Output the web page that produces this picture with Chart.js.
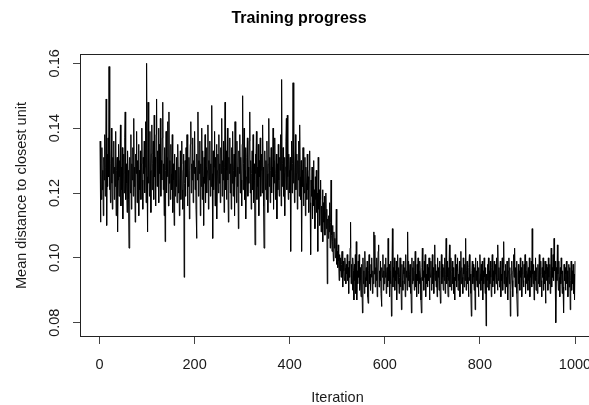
<!DOCTYPE html>
<html>
<head>
<meta charset="utf-8">
<script src="https://cdn.jsdelivr.net/npm/chart.js@4/dist/chart.umd.min.js"></script>
<style>
  html, body { margin: 0; padding: 0; background: #fff; overflow: hidden; }
  #wrap { position: absolute; left: 0; top: 0; width: 604px; height: 405px; }
</style>
</head>
<body>
<div id="wrap"><canvas id="c" width="604" height="405"></canvas></div>
<script>
// ---- data ----
const chartTitle = 'Training progress';
const xTitle = 'Iteration';
const yTitle = 'Mean distance to closest unit';
const xTicks = [0, 200, 400, 600, 800, 1000];
const xTickLabels = ['0', '200', '400', '600', '800', '1000'];
const yTicks = [0.08, 0.10, 0.12, 0.14, 0.16];
const yTickLabels = ['0.08', '0.10', '0.12', '0.14', '0.16'];

// mean distance per iteration (1..1000)
const meanDistance = [
// 1
0.136,0.111,0.129,0.118,0.134,0.121,0.127,0.113,0.131,0.124,0.138,0.119,0.128,0.149,0.110,0.132,0.122,0.137,0.125,0.159,
0.121,0.133,0.117,0.129,0.140,0.123,0.115,0.131,0.126,0.136,0.118,0.128,0.122,0.139,0.113,0.127,0.131,0.108,0.124,0.135,
0.119,0.130,0.125,0.141,0.116,0.128,0.121,0.134,0.112,0.126,0.132,0.120,0.137,0.145,0.118,0.129,0.123,0.114,0.133,0.127,
0.118,0.103,0.125,0.131,0.120,0.138,0.115,0.129,0.124,0.134,0.119,0.143,0.122,0.128,0.111,0.132,0.126,0.139,0.117,0.130,
0.123,0.135,0.113,0.127,0.121,0.133,0.118,0.129,0.140,0.124,0.115,0.131,0.126,0.136,0.120,0.128,0.142,0.117,0.160,0.125,
// 101
0.108,0.148,0.123,0.134,0.119,0.139,0.127,0.114,0.132,0.141,0.121,0.129,0.136,0.118,0.144,0.125,0.131,0.116,0.138,0.149,
0.122,0.133,0.128,0.140,0.117,0.135,0.126,0.143,0.119,0.130,0.124,0.137,0.148,0.121,0.129,0.113,0.134,0.105,0.127,0.139,
0.120,0.131,0.125,0.142,0.116,0.145,0.123,0.130,0.118,0.135,0.126,0.121,0.138,0.114,0.129,0.124,0.110,0.132,0.119,0.127,
0.122,0.131,0.117,0.126,0.135,0.120,0.128,0.113,0.124,0.133,0.118,0.129,0.136,0.121,0.115,0.127,0.132,0.094,0.123,0.130,
0.119,0.134,0.125,0.138,0.116,0.128,0.122,0.131,0.112,0.127,0.135,0.142,0.120,0.129,0.124,0.137,0.117,0.130,0.126,0.139,
// 201
0.121,0.128,0.115,0.106,0.132,0.124,0.145,0.119,0.130,0.126,0.136,0.113,0.129,0.122,0.140,0.118,0.133,0.125,0.110,0.131,
0.123,0.138,0.117,0.128,0.134,0.120,0.127,0.141,0.115,0.130,0.124,0.136,0.119,0.129,0.122,0.147,0.126,0.106,0.133,0.121,
0.128,0.139,0.116,0.131,0.125,0.135,0.112,0.127,0.132,0.120,0.138,0.123,0.129,0.117,0.134,0.126,0.143,0.119,0.130,0.124,
0.136,0.114,0.128,0.148,0.121,0.133,0.118,0.127,0.140,0.124,0.111,0.131,0.126,0.137,0.120,0.129,0.115,0.134,0.123,0.139,
0.119,0.127,0.132,0.113,0.142,0.125,0.130,0.117,0.136,0.122,0.128,0.109,0.133,0.126,0.138,0.120,0.131,0.124,0.116,0.135,
// 301
0.150,0.121,0.129,0.140,0.118,0.127,0.134,0.112,0.125,0.131,0.137,0.119,0.128,0.123,0.136,0.145,0.120,0.130,0.115,0.126,
0.133,0.121,0.138,0.117,0.129,0.124,0.104,0.132,0.126,0.139,0.118,0.128,0.122,0.135,0.113,0.130,0.125,0.137,0.119,0.127,
0.132,0.120,0.141,0.128,0.116,0.103,0.124,0.133,0.121,0.130,0.118,0.136,0.126,0.114,0.129,0.143,0.122,0.131,0.117,0.127,
0.134,0.120,0.128,0.125,0.140,0.115,0.130,0.123,0.137,0.118,0.126,0.132,0.112,0.129,0.121,0.135,0.124,0.119,0.131,0.127,
0.138,0.116,0.155,0.122,0.129,0.134,0.119,0.126,0.131,0.113,0.128,0.136,0.143,0.121,0.144,0.125,0.118,0.132,0.127,0.120,
// 401
0.131,0.102,0.127,0.136,0.120,0.129,0.154,0.123,0.133,0.117,0.128,0.138,0.121,0.126,0.132,0.115,0.130,0.124,0.136,0.119,
0.141,0.125,0.118,0.130,0.102,0.127,0.122,0.134,0.116,0.126,0.120,0.131,0.113,0.128,0.123,0.118,0.132,0.121,0.125,0.114,
0.127,0.133,0.117,0.101,0.124,0.119,0.128,0.112,0.122,0.130,0.116,0.121,0.109,0.125,0.118,0.127,0.114,0.120,0.102,0.131,
0.115,0.121,0.110,0.118,0.124,0.108,0.116,0.112,0.121,0.105,0.117,0.111,0.119,0.107,0.114,0.120,0.109,0.115,0.092,0.112,
0.106,0.113,0.108,0.117,0.103,0.111,0.124,0.107,0.102,0.110,0.105,0.099,0.108,0.103,0.106,0.100,0.104,0.115,0.098,0.102,
// 501
0.097,0.104,0.099,0.093,0.101,0.096,0.100,0.094,0.098,0.102,0.095,0.091,0.099,0.096,0.093,0.100,0.097,0.092,0.098,0.095,
0.101,0.093,0.097,0.089,0.099,0.094,0.103,0.111,0.092,0.098,0.095,0.090,0.100,0.096,0.087,0.098,0.093,0.101,0.089,0.105,
0.087,0.096,0.092,0.099,0.094,0.101,0.090,0.097,0.093,0.088,0.098,0.095,0.083,0.100,0.092,0.096,0.089,0.102,0.094,0.091,
0.097,0.093,0.099,0.088,0.086,0.096,0.101,0.092,0.095,0.090,0.098,0.094,0.100,0.089,0.096,0.092,0.108,0.095,0.107,0.091,
0.097,0.093,0.100,0.088,0.095,0.102,0.104,0.091,0.096,0.093,0.099,0.089,0.085,0.097,0.094,0.101,0.090,0.096,0.092,0.098,
// 601
0.094,0.100,0.089,0.095,0.097,0.091,0.106,0.093,0.098,0.088,0.096,0.092,0.099,0.082,0.095,0.109,0.091,0.097,0.094,0.100,
0.090,0.096,0.093,0.099,0.087,0.095,0.101,0.092,0.097,0.089,0.094,0.100,0.091,0.096,0.084,0.098,0.093,0.090,0.099,0.095,
0.092,0.097,0.088,0.101,0.094,0.096,0.090,0.108,0.093,0.099,0.091,0.095,0.098,0.089,0.094,0.083,0.100,0.092,0.097,0.093,
0.099,0.090,0.096,0.102,0.091,0.095,0.088,0.098,0.093,0.100,0.089,0.096,0.092,0.099,0.094,0.087,0.083,0.097,0.103,0.093,
0.096,0.090,0.099,0.094,0.101,0.088,0.095,0.092,0.098,0.091,0.097,0.093,0.100,0.087,0.096,0.094,0.099,0.090,0.095,0.101,
// 701
0.092,0.097,0.089,0.095,0.104,0.093,0.098,0.091,0.096,0.088,0.100,0.094,0.097,0.090,0.099,0.093,0.086,0.096,0.101,0.092,
0.098,0.094,0.090,0.097,0.093,0.100,0.089,0.095,0.106,0.092,0.099,0.094,0.088,0.097,0.093,0.104,0.091,0.096,0.100,0.090,
0.095,0.099,0.092,0.097,0.089,0.094,0.087,0.101,0.093,0.098,0.091,0.096,0.100,0.090,0.095,0.093,0.099,0.088,0.096,0.102,
0.092,0.097,0.094,0.089,0.100,0.095,0.091,0.098,0.093,0.106,0.090,0.096,0.099,0.092,0.094,0.088,0.097,0.101,0.093,0.095,
0.089,0.082,0.096,0.099,0.092,0.098,0.094,0.090,0.097,0.084,0.100,0.093,0.096,0.091,0.099,0.094,0.088,0.097,0.092,0.101,
// 801
0.095,0.090,0.098,0.093,0.099,0.087,0.096,0.092,0.100,0.094,0.089,0.097,0.079,0.095,0.091,0.098,0.093,0.100,0.090,0.096,
0.092,0.099,0.094,0.088,0.097,0.101,0.091,0.096,0.093,0.099,0.089,0.095,0.098,0.092,0.100,0.094,0.090,0.104,0.093,0.097,
0.091,0.096,0.099,0.088,0.095,0.093,0.100,0.090,0.097,0.105,0.092,0.096,0.089,0.098,0.094,0.091,0.099,0.093,0.087,0.096,
0.100,0.092,0.097,0.082,0.090,0.095,0.099,0.093,0.088,0.096,0.101,0.094,0.103,0.091,0.097,0.093,0.099,0.089,0.082,0.095,
0.098,0.092,0.096,0.090,0.100,0.094,0.097,0.088,0.095,0.099,0.093,0.091,0.098,0.094,0.101,0.089,0.096,0.092,0.099,0.095,
// 901
0.090,0.097,0.093,0.100,0.088,0.096,0.094,0.099,0.091,0.109,0.095,0.092,0.098,0.087,0.096,0.093,0.100,0.090,0.097,0.094,
0.089,0.098,0.092,0.096,0.101,0.091,0.095,0.099,0.093,0.088,0.097,0.094,0.100,0.090,0.096,0.092,0.099,0.086,0.095,0.098,
0.093,0.097,0.090,0.100,0.094,0.092,0.098,0.089,0.096,0.103,0.091,0.097,0.094,0.101,0.093,0.106,0.096,0.099,0.092,0.080,
0.097,0.093,0.104,0.095,0.090,0.099,0.094,0.088,0.097,0.092,0.100,0.095,0.089,0.096,0.091,0.083,0.098,0.093,0.097,0.090,
0.095,0.099,0.092,0.096,0.088,0.094,0.098,0.091,0.097,0.084,0.093,0.099,0.090,0.096,0.092,0.098,0.089,0.095,0.087,0.099
];
// iteration number of each value (its position in the run)
const iterations = meanDistance.map((_, i) => i + 1);

// ---- chart ----
const FONT = "'Liberation Sans', Arial, Helvetica, sans-serif";
const TEXT = '#1a1a1a';

const boxPlugin = {
  id: 'box',
  afterDatasetsDraw(chart) {
    const { ctx, chartArea: a } = chart;
    ctx.save();
    ctx.strokeStyle = '#222';
    ctx.lineWidth = 1;
    ctx.strokeRect(a.left - 0.5, a.top - 0.5, a.right - a.left + 1, a.bottom - a.top + 1);
    ctx.restore();
  }
};

new Chart(document.getElementById('c'), {
  type: 'line',
  data: {
    datasets: [{
      data: meanDistance.map((v, i) => ({ x: iterations[i], y: v })),
      borderColor: '#000',
      borderWidth: 1,
      pointRadius: 0,
      tension: 0,
      fill: false
    }]
  },
  options: {
    responsive: false,
    animation: false,
    events: [],
    parsing: false,
    normalized: true,
    layout: { padding: { left: 4, right: 10, top: 0, bottom: 0 } },
    plugins: {
      legend: { display: false },
      tooltip: { enabled: false },
      title: {
        display: true,
        text: chartTitle,
        color: '#000',
        font: { family: FONT, size: 16, weight: 'bold' },
        padding: { top: 9, bottom: 26.8 }
      }
    },
    scales: {
      x: {
        type: 'linear',
        min: -38.96,
        max: 1039.96,
        afterBuildTicks: (s) => { s.ticks = xTicks.map(v => ({ value: v })); },
        afterFit: (s) => { s.height = 69; s.paddingLeft = 0; s.paddingRight = 0; },
        grid: { drawOnChartArea: false, drawTicks: true, tickLength: 8, color: '#444', lineWidth: 1 },
        border: { display: false },
        ticks: {
          autoSkip: false,
          maxRotation: 0,
          minRotation: 0,
          padding: 12,
          color: TEXT,
          font: { family: FONT, size: 14.5 },
          callback: (v, i) => xTickLabels[i]
        },
        title: {
          display: true,
          text: xTitle,
          color: TEXT,
          font: { family: FONT, size: 14.5, lineHeight: 1 },
          padding: { top: 0, bottom: 0 }
        }
      },
      y: {
        type: 'linear',
        min: 0.0759,
        max: 0.16256,
        afterBuildTicks: (s) => { s.ticks = yTicks.map(v => ({ value: v })); },
        afterFit: (s) => { s.width = 77; s.paddingTop = 0; s.paddingBottom = 0; },
        grid: { drawOnChartArea: false, drawTicks: true, tickLength: 8, color: '#444', lineWidth: 1 },
        border: { display: false },
        ticks: {
          autoSkip: false,
          minRotation: 90,
          maxRotation: 90,
          crossAlign: 'center',
          padding: 4,
          color: TEXT,
          font: { family: FONT, size: 14.5 },
          callback: (v, i) => yTickLabels[i]
        },
        title: {
          display: true,
          text: yTitle,
          color: TEXT,
          font: { family: FONT, size: 14.5 },
          padding: { top: 9, bottom: 0 }
        }
      }
    }
  },
  plugins: [boxPlugin]
});
</script>
</body>
</html>
